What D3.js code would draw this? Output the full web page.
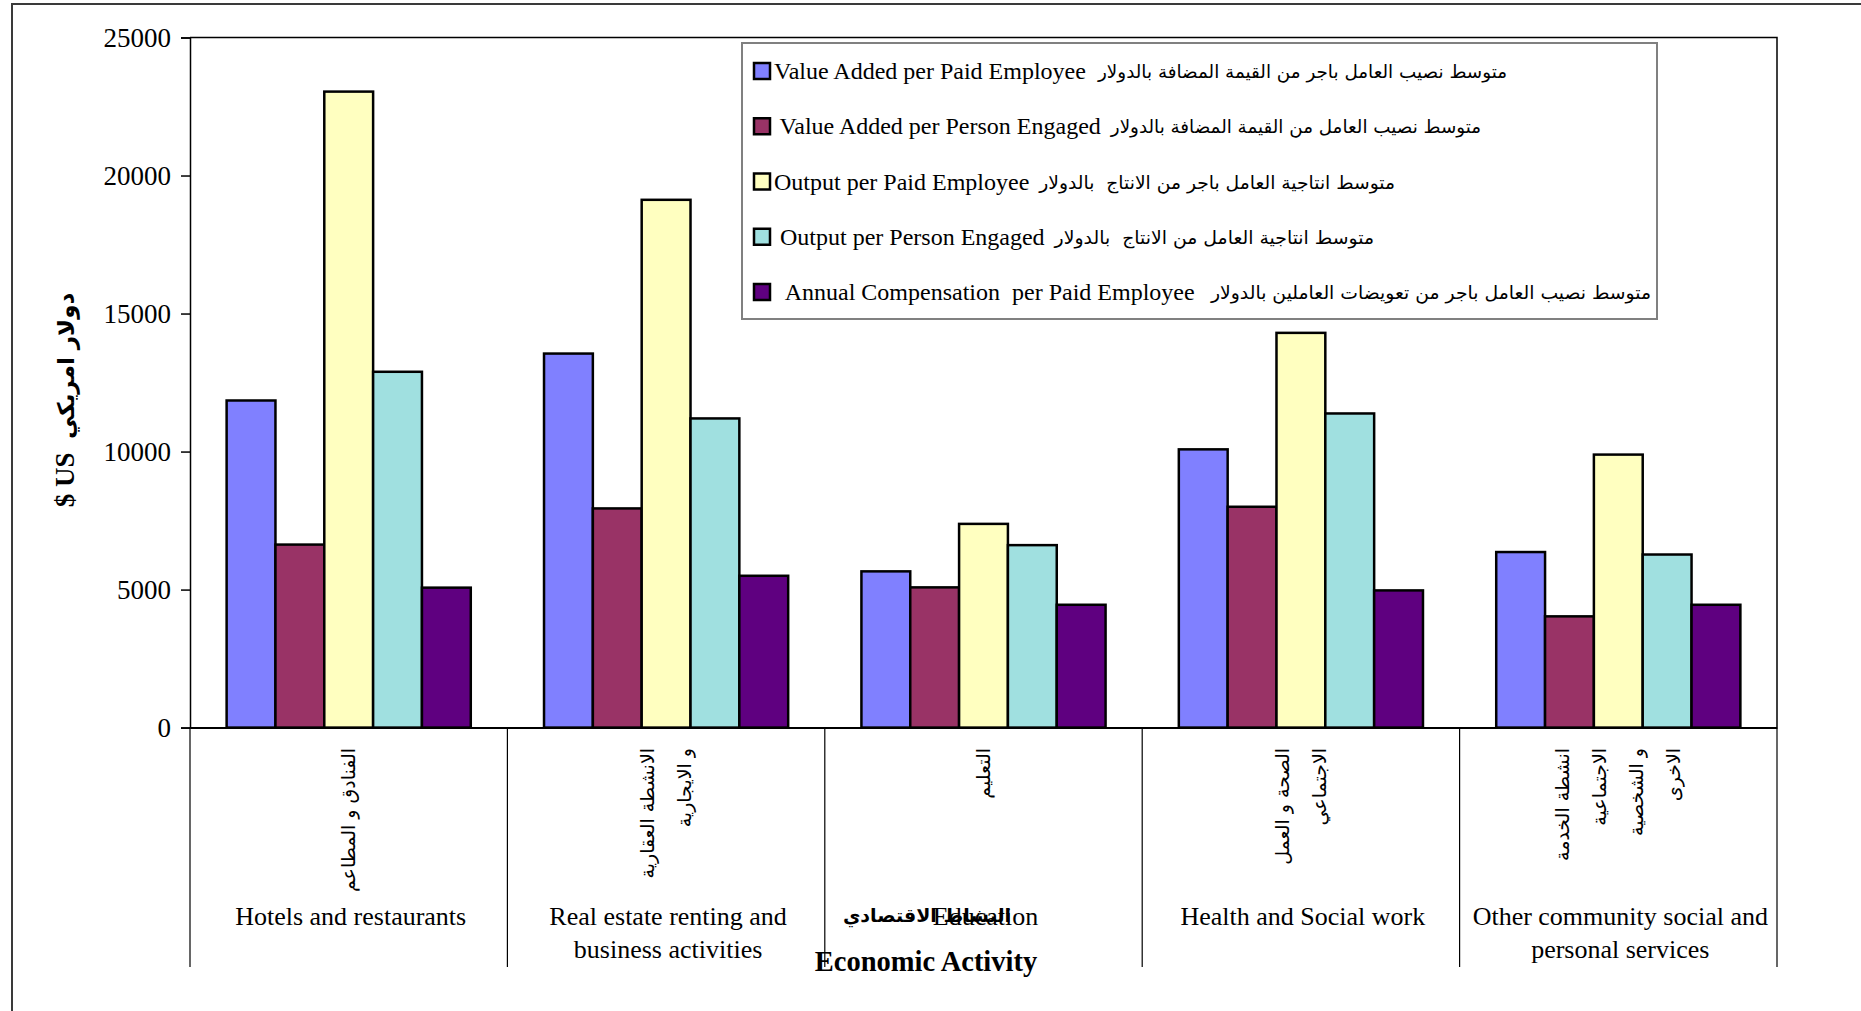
<!DOCTYPE html>
<html>
<head>
<meta charset="utf-8">
<script src="https://cdn.jsdelivr.net/npm/d3@7"></script>
<style>
  html, body { margin: 0; padding: 0; background: #ffffff; }
  svg { display: block; }
  text { white-space: pre; }
</style>
</head>
<body>
<svg id="chart" width="1861" height="1011"></svg>
<script>
// ---------------- DATA ----------------
const categoriesEn = [
  ["Hotels and restaurants"],
  ["Real estate renting and", "business activities"],
  ["Education"],
  ["Health and Social work"],
  ["Other community social and", "personal services"]
];
const categoriesAr = [
  ["الفنادق و المطاعم"],
  ["الانشطة العقارية", "و الايجارية"],
  ["التعليم"],
  ["الصحة و العمل", "الاجتماعي"],
  ["انشطة الخدمة", "الاجتماعية", "و الشخصية", "الاخرى"]
];
const seriesEn = [
  "Value Added per Paid Employee",
  " Value Added per Person Engaged",
  "Output per Paid Employee",
  " Output per Person Engaged",
  "  Annual Compensation  per Paid Employee"
];
const seriesAr = [
  "متوسط نصيب العامل باجر من القيمة المضافة بالدولار",
  "متوسط نصيب العامل من القيمة المضافة بالدولار",
  "متوسط انتاجية العامل باجر من الانتاج  بالدولار",
  "متوسط انتاجية العامل من الانتاج  بالدولار",
  "متوسط نصيب العامل باجر من تعويضات العاملين بالدولار"
];
const valueAddedPerPaid   = [11850, 13550, 5660, 10080, 6360];
const valueAddedPerPerson = [6630, 7940, 5080, 8000, 4030];
const outputPerPaid       = [23040, 19120, 7380, 14300, 9890];
const outputPerPerson     = [12890, 11200, 6610, 11380, 6270];
const compensationPerPaid = [5070, 5500, 4450, 4970, 4450];
const yTicks = [0, 5000, 10000, 15000, 20000, 25000];
const yTitleEn = "$ US  ";
const yTitleAr = "دولار امريكي";
const xTitleEn = "Economic Activity";
const xTitleAr = "النشاط الاقتصادي";

// ---------------- LAYOUT ----------------
const seriesValues = [valueAddedPerPaid, valueAddedPerPerson, outputPerPaid, outputPerPerson, compensationPerPaid];
const colors = ["#8080FF", "#993366", "#FFFFC0", "#A0E0E0", "#5F0080"];
const serif = "'Liberation Serif', 'Times New Roman', 'DejaVu Sans', serif";
const arab = "'DejaVu Sans', sans-serif";

const plot = { left: 190, right: 1777, top: 37.5, bottom: 727.6 };
const svg = d3.select("#chart");

// outer frame
svg.append("rect").attr("x", 12).attr("y", 4).attr("width", 1900).attr("height", 1100)
  .attr("fill", "none").attr("stroke", "#3a3a3a").attr("stroke-width", 2);

const catIdx = d3.range(categoriesEn.length);
const x = d3.scaleBand().domain(catIdx).range([plot.left, plot.right]).padding(0);
const xs = d3.scaleBand().domain(d3.range(seriesValues.length)).range([0, x.bandwidth()])
  .paddingInner(0).paddingOuter(0.75);
const y = d3.scaleLinear().domain([0, 25000]).range([plot.bottom, plot.top]);

// plot border (top/right)
svg.append("path")
  .attr("d", `M${plot.left},${plot.top}H${plot.right}V${plot.bottom}`)
  .attr("fill", "none").attr("stroke", "#000").attr("stroke-width", 1.5);

// bars
const groups = svg.append("g").selectAll("g").data(catIdx).join("g")
  .attr("transform", d => `translate(${x(d)},0)`);
groups.selectAll("rect")
  .data(c => seriesValues.map((arr, s) => ({ s, v: arr[c] })))
  .join("rect")
  .attr("x", d => xs(d.s))
  .attr("width", xs.bandwidth())
  .attr("y", d => y(d.v))
  .attr("height", d => y(0) - y(d.v))
  .attr("fill", d => colors[d.s])
  .attr("stroke", "#000")
  .attr("stroke-width", 2.5);

// y axis
const yAxis = svg.append("g").attr("transform", `translate(${plot.left},0)`)
  .call(d3.axisLeft(y).tickValues(yTicks).tickSize(9).tickPadding(10).tickFormat(d3.format("d")));
yAxis.select(".domain").attr("stroke", "#000").attr("stroke-width", 1.5);
yAxis.selectAll(".tick line").attr("stroke", "#000").attr("stroke-width", 1.5);
yAxis.selectAll(".tick text").attr("font-family", serif).attr("font-size", 27).attr("fill", "#000");

// x axis with category dividers
const xAxis = svg.append("g").attr("transform", `translate(0,${plot.bottom})`)
  .call(d3.axisBottom(x).tickSize(0).tickFormat(""));
xAxis.select(".domain").attr("stroke", "#000").attr("stroke-width", 2);
svg.append("g").selectAll("line")
  .data(catIdx.concat([catIdx.length]))
  .join("line")
  .attr("x1", d => d < catIdx.length ? x(d) : plot.right)
  .attr("x2", d => d < catIdx.length ? x(d) : plot.right)
  .attr("y1", plot.bottom).attr("y2", 967)
  .attr("stroke", "#000").attr("stroke-width", 1.2);

// Arabic category labels (vertical)
const arSpacing = 37;
catIdx.forEach(c => {
  const lines = categoriesAr[c];
  const cx = x(c) + x.bandwidth() / 2;
  lines.forEach((t, i) => {
    const lx = cx + (i - (lines.length - 1) / 2) * arSpacing;
    svg.append("text")
      .attr("transform", `translate(${lx},748) rotate(-90)`)
      .attr("text-anchor", "end")
      .attr("dy", "0.35em")
      .attr("font-family", arab)
      .attr("font-size", 19)
      .attr("fill", "#000")
      .text(t);
  });
  // English labels
  categoriesEn[c].forEach((t, i) => {
    svg.append("text")
      .attr("x", cx + 2).attr("y", 925 + i * 33)
      .attr("text-anchor", "middle")
      .attr("font-family", serif).attr("font-size", 26).attr("fill", "#000")
      .text(t);
  });
});

// axis titles
const yt = svg.append("text")
  .attr("transform", "translate(68,400) rotate(-90)")
  .attr("text-anchor", "middle").attr("dy", "0.35em")
  .attr("font-weight", "bold").attr("fill", "#000");
yt.append("tspan").attr("font-family", serif).attr("font-size", 27).text(yTitleEn);
yt.append("tspan").attr("font-family", arab).attr("font-size", 23).text(yTitleAr);

svg.append("text")
  .attr("x", 927).attr("y", 922).attr("text-anchor", "middle")
  .attr("font-family", arab).attr("font-size", 19).attr("font-weight", "bold")
  .attr("fill", "#000").text(xTitleAr);
svg.append("text")
  .attr("x", 926).attr("y", 971).attr("text-anchor", "middle")
  .attr("font-family", serif).attr("font-size", 28.5).attr("font-weight", "bold")
  .attr("fill", "#000").text(xTitleEn);

// legend
const legend = { x: 742, y: 43, w: 915, h: 276 };
svg.append("rect").attr("x", legend.x).attr("y", legend.y)
  .attr("width", legend.w).attr("height", legend.h)
  .attr("fill", "#fff").attr("stroke", "#808080").attr("stroke-width", 2);
const rowY = d3.scalePoint().domain(d3.range(seriesEn.length)).range([71, 292]);
const arStart = [1098, 1104, 1036, 1050, 1211];
const arEnd = [1507, 1481, 1395, 1374, 1651];
seriesEn.forEach((name, i) => {
  const cy = rowY(i);
  svg.append("rect").attr("x", 754).attr("y", cy - 8).attr("width", 16).attr("height", 16)
    .attr("fill", colors[i]).attr("stroke", "#000").attr("stroke-width", 2.5);
  const en = svg.append("text").attr("x", 774).attr("y", cy + 8)
    .attr("font-family", serif).attr("font-size", 24).attr("fill", "#000")
    .text(name);
  const enEnd = 774 + en.node().getComputedTextLength();
  const sx = Math.max(arStart[i], enEnd + 10);
  svg.append("text").attr("x", sx).attr("y", cy + 7)
    .attr("font-family", arab).attr("font-size", 18).attr("fill", "#000")
    .attr("textLength", arEnd[i] - sx).attr("lengthAdjust", "spacingAndGlyphs")
    .text(seriesAr[i]);
});
</script>
</body>
</html>
